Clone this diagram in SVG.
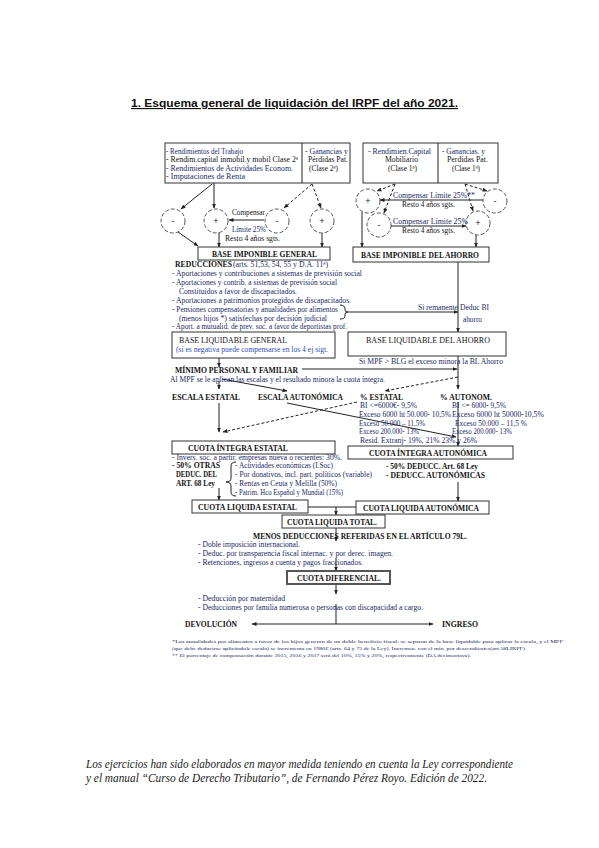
<svg xmlns="http://www.w3.org/2000/svg" width="599" height="848" viewBox="0 0 599 848">
<defs>
<marker id="ah" viewBox="0 0 10 10" refX="9" refY="5" markerWidth="5" markerHeight="5" markerUnits="userSpaceOnUse" orient="auto-start-reverse"><path d="M0,1 L10,5 L0,9 z" fill="#222"/></marker>
<style>
.t{font-family:"Liberation Serif","Times New Roman",serif;font-size:7.5px;fill:#1a2866}
.b{font-family:"Liberation Serif","Times New Roman",serif;font-size:7.5px;font-weight:bold;fill:#111}
.n{font-family:"Liberation Serif","Times New Roman",serif;font-size:7.5px;fill:#111}
.bl{fill:#2b4fc0}
.fn{font-family:"Liberation Serif","Times New Roman",serif;font-size:5px;fill:#1a2866}
.box{fill:#fff;stroke:#333;stroke-width:1}
.cir{fill:none;stroke:#444;stroke-width:0.9;stroke-dasharray:4 2}
.ln{fill:none;stroke:#222;stroke-width:1}
.ar{fill:none;stroke:#222;stroke-width:1;marker-end:url(#ah)}
.da{fill:none;stroke:#222;stroke-width:1;stroke-dasharray:3 2;marker-end:url(#ah)}
.sg{font-family:"Liberation Sans",Arial,sans-serif;font-size:9px;fill:#222;text-anchor:middle}
</style>
</defs>
<rect width="599" height="848" fill="#fff"/>
<text x="131" y="107" font-family="Liberation Sans, Arial, sans-serif" font-size="11.5" font-weight="bold" fill="#111" text-decoration="underline" textLength="327" lengthAdjust="spacingAndGlyphs">1. Esquema general de liquidación del IRPF del año 2021.</text>

<g id="connectors">
<line class="ar" x1="212" y1="184" x2="181" y2="209"/>
<line class="ar" x1="214" y1="183" x2="214" y2="208"/>
<line class="da" x1="312" y1="184" x2="284" y2="208"/>
<line class="da" x1="312" y1="184" x2="321" y2="208"/>
<line class="ar" x1="264" y1="220" x2="229" y2="220"/>
<line class="ar" x1="178" y1="232" x2="198" y2="246"/>
<line class="ar" x1="219" y1="233" x2="219" y2="247"/>
<line class="ar" x1="322" y1="233" x2="322" y2="247"/>
<line class="da" x1="395" y1="184" x2="377" y2="191"/>
<line class="da" x1="395" y1="184" x2="384" y2="213"/>
<line class="da" x1="465" y1="184" x2="487" y2="191"/>
<line class="da" x1="465" y1="184" x2="473" y2="211"/>
<line class="ar" x1="483" y1="200" x2="380" y2="200"/>
<line class="ar" x1="391" y1="226" x2="466" y2="226"/>
<line class="ar" x1="362" y1="212" x2="362" y2="247"/>
<line class="ar" x1="476" y1="235" x2="476" y2="247"/>
<path class="ln" d="M340,305 Q345,305 345,309 L345,310 Q345,312 348,312 Q345,312 345,314 L345,316 Q345,319 340,319"/>
<line class="ar" x1="348" y1="312" x2="458" y2="312"/>
<line class="ar" x1="458" y1="262" x2="458" y2="332"/>
<line class="ar" x1="219" y1="358" x2="219" y2="367"/>
<line class="ar" x1="302" y1="369" x2="457" y2="369"/>
<line class="ar" x1="458" y1="356" x2="458" y2="389"/>
<line class="da" x1="458" y1="377" x2="385" y2="391"/>
<line class="ar" x1="219" y1="381" x2="219" y2="389"/>
<line class="ar" x1="222" y1="379" x2="287" y2="391"/>
<line class="ar" x1="219" y1="403" x2="219" y2="432"/>
<line class="da" x1="357" y1="402" x2="223" y2="432"/>
<line class="ar" x1="287" y1="403" x2="456" y2="437"/>
<line class="ar" x1="458" y1="402" x2="458" y2="446"/>
<path class="ln" d="M236,462 Q231,462 231,466 L231,478 Q231,482 226,482 Q231,482 231,486 L231,492 Q231,496 236,496"/>
<line class="ar" x1="219" y1="488" x2="219" y2="500"/>
<line class="ln" x1="308" y1="507" x2="356" y2="507"/>
<line class="ar" x1="336" y1="507" x2="336" y2="515"/>
<line class="ar" x1="458" y1="482" x2="458" y2="501"/>
<line class="ar" x1="336" y1="528" x2="336" y2="541"/>
<line class="ar" x1="336" y1="558" x2="336" y2="571"/>
<line class="ar" x1="336" y1="584" x2="336" y2="594"/>
<line class="ln" x1="336" y1="604" x2="336" y2="624"/>
<line class="ar" x1="336" y1="624" x2="252" y2="624"/>
<line class="ar" x1="336" y1="624" x2="433" y2="624"/>
</g>

<g id="rendimientos-generales">
<rect class="box" x="165" y="143" width="185" height="40"/>
<line class="ln" x1="302" y1="143" x2="302" y2="183"/>
<text class="t" x="166" y="154" textLength="77" lengthAdjust="spacingAndGlyphs">- Rendimientos del Trabajo</text>
<text class="n" x="166" y="162" textLength="132" lengthAdjust="spacingAndGlyphs">- Rendim.capital inmobil.y mobil Clase 2ª</text>
<text class="t" x="166" y="171" textLength="127" lengthAdjust="spacingAndGlyphs">- Rendimientos de Actividades Econom.</text>
<text class="t" x="166" y="179" textLength="79" lengthAdjust="spacingAndGlyphs">- Imputaciones de Renta</text>
<text class="t" x="305" y="154" textLength="43" lengthAdjust="spacingAndGlyphs">- Ganancias y</text>
<text class="n" x="308" y="162" textLength="40" lengthAdjust="spacingAndGlyphs">Pérdidas Pat.</text>
<text class="n" x="309" y="171" textLength="29" lengthAdjust="spacingAndGlyphs">(Clase 2ª)</text>
</g>

<g id="rendimientos-ahorro">
<rect class="box" x="363" y="143" width="135" height="40"/>
<line class="ln" x1="438" y1="143" x2="438" y2="183"/>
<text class="t" x="368" y="154" textLength="63" lengthAdjust="spacingAndGlyphs">- Rendimien.Capital</text>
<text class="n" x="385" y="162" textLength="33" lengthAdjust="spacingAndGlyphs">Mobiliario</text>
<text class="n" x="388" y="171" textLength="29" lengthAdjust="spacingAndGlyphs">(Clase 1ª)</text>
<text class="t" x="442" y="154" textLength="43" lengthAdjust="spacingAndGlyphs">- Ganancias. y</text>
<text class="n" x="447" y="162" textLength="41" lengthAdjust="spacingAndGlyphs">Perdidas Pat.</text>
<text class="n" x="452" y="171" textLength="28" lengthAdjust="spacingAndGlyphs">(Clase 1ª)</text>
</g>

<g id="compensacion-general">
<circle class="cir" cx="173" cy="221" r="12"/>
<text class="sg" x="173" y="224">-</text>
<circle class="cir" cx="216" cy="221" r="12"/>
<text class="sg" x="216" y="224">+</text>
<circle class="cir" cx="277" cy="221" r="12"/>
<text class="sg" x="277" y="224">-</text>
<circle class="cir" cx="322" cy="221" r="12"/>
<text class="sg" x="322" y="224" fill="#2b4fc0">+</text>
<text class="n" x="232" y="215" textLength="33" lengthAdjust="spacingAndGlyphs">Compensar</text>
<text class="t" x="232" y="232" textLength="34" lengthAdjust="spacingAndGlyphs">Límite 25%</text>
<text class="n" x="225" y="241" textLength="55" lengthAdjust="spacingAndGlyphs">Resto 4 años sgts.</text>
</g>

<g id="compensacion-ahorro">
<circle class="cir" cx="368" cy="201" r="12"/>
<text class="sg" x="368" y="204">+</text>
<circle class="cir" cx="495" cy="201" r="12"/>
<text class="sg" x="495" y="204">-</text>
<circle class="cir" cx="379" cy="225" r="12"/>
<text class="sg" x="379" y="228">-</text>
<circle class="cir" cx="478" cy="223" r="12"/>
<text class="sg" x="478" y="226">+</text>
<text class="t" x="393" y="198" textLength="82" lengthAdjust="spacingAndGlyphs">Compensar  Límite 25%**</text>
<text class="n" x="402" y="207" textLength="53" lengthAdjust="spacingAndGlyphs">Resto 4 años sgts.</text>
<text class="t" x="393" y="224" textLength="75" lengthAdjust="spacingAndGlyphs">Compensar  Límite 25%</text>
<text class="n" x="402" y="233" textLength="53" lengthAdjust="spacingAndGlyphs">Resto 4 años sgts.</text>
</g>

<g id="base-imponible-general">
<rect class="box" x="198" y="247" width="132" height="13"/>
<text class="b" x="212" y="257" textLength="105" lengthAdjust="spacingAndGlyphs">BASE IMPONIBLE GENERAL</text>
</g>

<g id="reducciones">
<text class="b" x="175" y="267" textLength="57" lengthAdjust="spacingAndGlyphs" fill="#1a2866">REDUCCIONES</text>
<text class="t" x="233" y="267" textLength="95" lengthAdjust="spacingAndGlyphs">(arts. 51,53, 54, 55 y D.A. 11ª)</text>
<text class="t" x="172" y="276" textLength="190" lengthAdjust="spacingAndGlyphs">- Aportaciones y contribuciones a sistemas de previsión social</text>
<text class="t" x="172" y="285" textLength="165" lengthAdjust="spacingAndGlyphs">- Aportaciones y contrib. a sistemas de previsión social</text>
<text class="t" x="179" y="294" textLength="118" lengthAdjust="spacingAndGlyphs">Constituidos a favor de discapacitados.</text>
<text class="t" x="172" y="303" textLength="179" lengthAdjust="spacingAndGlyphs">- Aportaciones a patrimonios protegidos de discapacitados.</text>
<text class="t" x="172" y="312" textLength="166" lengthAdjust="spacingAndGlyphs">- Pensiones compensatorias y anualidades por alimentos</text>
<text class="t" x="179" y="321" textLength="148" lengthAdjust="spacingAndGlyphs">(menos hijos *) satisfechas por decisión judicial</text>
<text class="t" x="172" y="329" textLength="175" lengthAdjust="spacingAndGlyphs">- Aport. a mutualid. de prev. soc. a favor de deportistas prof.</text>
<text class="t" x="418" y="310" textLength="40" lengthAdjust="spacingAndGlyphs">Si remanente</text>
<text class="t" x="460" y="310" textLength="29" lengthAdjust="spacingAndGlyphs">Deduc BI</text>
<text class="t" x="463" y="322" textLength="19" lengthAdjust="spacingAndGlyphs">ahorro</text>
</g>

<g id="base-imponible-ahorro">
<rect class="box" x="353" y="247" width="136" height="15"/>
<text class="b" x="361" y="258" textLength="118" lengthAdjust="spacingAndGlyphs">BASE IMPONIBLE DEL AHORRO</text>
</g>

<g id="base-liquidable-general">
<rect class="box" x="172" y="332" width="163" height="26"/>
<text class="n" x="179" y="343" textLength="108" lengthAdjust="spacingAndGlyphs">BASE LIQUIDABLE GENERAL</text>
<text class="t bl" x="176" y="352" textLength="152" lengthAdjust="spacingAndGlyphs">(si es negativa puede compensarse en los 4 ej sigt.</text>
</g>

<g id="base-liquidable-ahorro">
<rect class="box" x="348" y="332" width="158" height="24"/>
<text class="n" x="366" y="343" textLength="124" lengthAdjust="spacingAndGlyphs">BASE LIQUIDABLE DEL AHORRO</text>
<text class="t" x="359" y="364" textLength="144" lengthAdjust="spacingAndGlyphs">Si MPF &gt; BLG el exceso minora la BL Ahorro</text>
</g>

<g id="minimo-personal">
<text class="b" x="175" y="373" textLength="123" lengthAdjust="spacingAndGlyphs">MÍNIMO PERSONAL Y FAMILIAR</text>
<text class="t" x="170" y="382" textLength="215" lengthAdjust="spacingAndGlyphs">Al MPF se le aplican las escalas y el resultado minora la cuota íntegra.</text>
</g>

<g id="escalas">
<text class="b" x="172" y="400" textLength="68" lengthAdjust="spacingAndGlyphs">ESCALA ESTATAL</text>
<text class="b" x="258" y="400" textLength="85" lengthAdjust="spacingAndGlyphs">ESCALA AUTONÓMICA</text>
<text class="b" x="360" y="400" textLength="43" lengthAdjust="spacingAndGlyphs">% ESTATAL</text>
<text class="b" x="440" y="400" textLength="52" lengthAdjust="spacingAndGlyphs">% AUTONOM.</text>
<text class="t" x="360" y="408" textLength="57" lengthAdjust="spacingAndGlyphs">BI &lt;=6000€- 9,5%</text>
<text class="t" x="452" y="408" textLength="54" lengthAdjust="spacingAndGlyphs">BI &lt;= 6000- 9,5%</text>
<text class="t" x="359" y="417" textLength="92" lengthAdjust="spacingAndGlyphs">Exceso 6000 ht 50.000- 10,5%</text>
<text class="t" x="452" y="417" textLength="92" lengthAdjust="spacingAndGlyphs">Exceso 6000 ht 50000-10,5%</text>
<text class="t" x="359" y="426" textLength="66" lengthAdjust="spacingAndGlyphs">Exceso 50.000 – 11,5%</text>
<text class="t" x="455" y="426" textLength="72" lengthAdjust="spacingAndGlyphs">Exceso 50.000 – 11,5 %</text>
<text class="t" x="359" y="434" textLength="60" lengthAdjust="spacingAndGlyphs">Exceso 200.000- 13%</text>
<text class="t" x="452" y="434" textLength="60" lengthAdjust="spacingAndGlyphs">Exceso 200.000- 13%</text>
<text class="t" x="360" y="443" textLength="117" lengthAdjust="spacingAndGlyphs">Resid. Extranj- 19%, 21% 23% y 26%</text>
</g>

<g id="cuota-integra-estatal">
<rect class="box" x="172" y="441" width="163" height="13"/>
<text class="b" x="188" y="451" textLength="100" lengthAdjust="spacingAndGlyphs">CUOTA ÍNTEGRA ESTATAL</text>
</g>

<g id="cuota-integra-autonomica">
<rect class="box" x="348" y="446" width="165" height="13"/>
<text class="b" x="369" y="456" textLength="118" lengthAdjust="spacingAndGlyphs">CUOTA ÍNTEGRA AUTONÓMICA</text>
</g>

<g id="deducciones-estatales">
<text class="t" x="172" y="460" textLength="170" lengthAdjust="spacingAndGlyphs">- Invers. soc. a partir. empresas nueva o recientes: 30%.</text>
<text class="b" x="172" y="468" textLength="48" lengthAdjust="spacingAndGlyphs">- 50% OTRAS</text>
<text class="b" x="176" y="477" textLength="41" lengthAdjust="spacingAndGlyphs">DEDUC. DEL</text>
<text class="b" x="176" y="486" textLength="39" lengthAdjust="spacingAndGlyphs">ART. 68 Ley</text>
<text class="t" x="235" y="468" textLength="98" lengthAdjust="spacingAndGlyphs">- Actividades económicas (I.Soc)</text>
<text class="t" x="235" y="477" textLength="137" lengthAdjust="spacingAndGlyphs">- Por donativos, incl. part. políticos (variable)</text>
<text class="t" x="235" y="486" textLength="102" lengthAdjust="spacingAndGlyphs">- Rentas en Ceuta y Melilla (50%)</text>
<text class="t" x="235" y="495" textLength="108" lengthAdjust="spacingAndGlyphs">- Patrim. Hco Español y Mundial (15%)</text>
</g>

<g id="deducciones-autonomicas">
<text class="b" x="386" y="469" textLength="92" lengthAdjust="spacingAndGlyphs">- 50% DEDUCC. Art. 68 Ley</text>
<text class="b" x="386" y="478" textLength="99" lengthAdjust="spacingAndGlyphs">- DEDUCC. AUTONÓMICAS</text>
</g>

<g id="cuota-liquida-estatal">
<rect class="box" x="192" y="500" width="116" height="13"/>
<text class="b" x="198" y="510" textLength="99" lengthAdjust="spacingAndGlyphs">CUOTA LIQUIDA ESTATAL</text>
</g>

<g id="cuota-liquida-autonomica">
<rect class="box" x="356" y="501" width="133" height="13"/>
<text class="b" x="363" y="511" textLength="116" lengthAdjust="spacingAndGlyphs">CUOTA LIQUIDA AUTONÓMICA</text>
</g>

<g id="cuota-liquida-total">
<rect class="box" x="282" y="515" width="103" height="13"/>
<text class="b" x="287" y="525" textLength="90" lengthAdjust="spacingAndGlyphs">CUOTA LIQUIDA TOTAL.</text>
</g>

<g id="menos-deducciones">
<text class="b" x="253" y="539" textLength="214" lengthAdjust="spacingAndGlyphs">MENOS DEDUCCIONES REFERIDAS EN EL ARTÍCULO 79L.</text>
<text class="t" x="198" y="547" textLength="102" lengthAdjust="spacingAndGlyphs">- Doble imposición internacional.</text>
<text class="t" x="198" y="556" textLength="195" lengthAdjust="spacingAndGlyphs">- Deduc. por transparencia fiscal internac. y por derec. imagen.</text>
<text class="t" x="198" y="565" textLength="165" lengthAdjust="spacingAndGlyphs">- Retenciones, ingresos a cuenta y pagos fraccionados.</text>
</g>

<g id="cuota-diferencial">
<rect x="287" y="571" width="103" height="13" fill="#fff" stroke="#555" stroke-width="2"/>
<text class="b" x="297" y="581" textLength="84" lengthAdjust="spacingAndGlyphs">CUOTA DIFERENCIAL.</text>
</g>

<g id="otras-deducciones">
<text class="t" x="198" y="601" textLength="87" lengthAdjust="spacingAndGlyphs">- Deducción por maternidad</text>
<text class="t" x="198" y="610" textLength="225" lengthAdjust="spacingAndGlyphs">- Deducciones por familia numerosa o personas con discapacidad a cargo.</text>
</g>

<g id="devolucion">
<text class="b" x="185" y="627" textLength="52" lengthAdjust="spacingAndGlyphs">DEVOLUCIÓN</text>
</g>
<g id="ingreso">
<text class="b" x="442" y="627" textLength="36" lengthAdjust="spacingAndGlyphs">INGRESO</text>
</g>

<g id="notas">
<text class="fn" x="172" y="643" textLength="391" lengthAdjust="spacingAndGlyphs">*Las anualidades por alimentos a favor de los hijos generan de un doble beneficio fiscal: se separan de la base liquidable para aplicar la escala, y el MPF</text>
<text class="fn" x="172" y="650" textLength="353" lengthAdjust="spacingAndGlyphs">(que debe deducirse aplicándole escala) se incrementa en 1980€ (arts. 64 y 75 de la Ley). Incremen. con el mín. por descendientes(art.58LIRPF)</text>
<text class="fn" x="172" y="657" textLength="299" lengthAdjust="spacingAndGlyphs">** El porcentaje de compensación durante 2015, 2016 y 2017 será del 10%, 15% y 20%, respectivamente (DA decimoctava).</text>
</g>

<text x="86" y="768" font-family="Liberation Serif, Times New Roman, serif" font-size="11.5" font-style="italic" fill="#222" textLength="427" lengthAdjust="spacingAndGlyphs">Los ejercicios han sido elaborados en mayor medida teniendo en cuenta la Ley correspondiente</text>
<text x="86" y="782" font-family="Liberation Serif, Times New Roman, serif" font-size="11.5" font-style="italic" fill="#222" textLength="401" lengthAdjust="spacingAndGlyphs">y el manual “Curso de Derecho Tributario”, de Fernando Pérez Royo. Edición de 2022.</text>
</svg>
